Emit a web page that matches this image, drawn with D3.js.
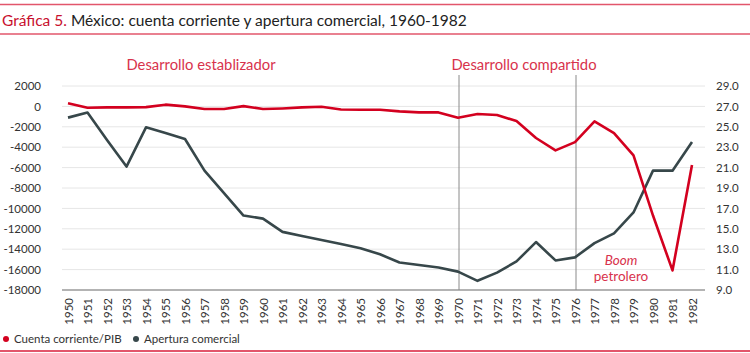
<!DOCTYPE html>
<html><head><meta charset="utf-8">
<script src="https://cdn.jsdelivr.net/npm/d3@7"></script>
<style>body{margin:0;background:#fff}svg{display:block}text{font-family:Lato,"Open Sans",sans-serif}</style>
</head><body>
<script>
const years = d3.range(1950, 1983);
const cuentaCorriente = [300,-130,-100,-100,-70,170,0,-260,-260,30,-260,-200,-100,-30,-300,-330,-330,-490,-590,-590,-1110,-750,-850,-1440,-3100,-4310,-3500,-1470,-2610,-4800,-10700,-16080,-5750];
const apertura = [25.9,26.4,23.7,21.1,24.95,24.4,23.8,20.7,18.5,16.3,16.0,14.7,14.3,13.9,13.5,13.1,12.5,11.7,11.45,11.2,10.8,9.9,10.7,11.8,13.7,11.9,12.2,13.6,14.55,16.6,20.7,20.7,23.5];
const leftTicks = d3.range(-18000, 2001, 2000);
const rightTicks = d3.range(9, 29.01, 2);
const periods = [{label:"Desarrollo establizador", x:201},{label:"Desarrollo compartido", x:524}];
const dividers = [1970, 1976];

const W=750,H=353;
const svg=d3.select("body").append("svg").attr("width",W).attr("height",H);
const red="#d3001f", gray="#37474a", pink="#e2566b";

const x=d3.scalePoint().domain(years).range([68,692]);
const yL=d3.scaleLinear().domain([-18000,2000]).range([290,86]);
const yR=d3.scaleLinear().domain([9,29]).range([290,86]);

// frame lines
svg.append("line").attr("x1",0).attr("x2",W).attr("y1",4.5).attr("y2",4.5).attr("stroke",pink).attr("stroke-width",1.5);
svg.append("line").attr("x1",0).attr("x2",W).attr("y1",34).attr("y2",34).attr("stroke",pink).attr("stroke-width",1.5);
svg.append("line").attr("x1",0).attr("x2",W).attr("y1",351).attr("y2",351).attr("stroke",pink).attr("stroke-width",2);

const title=svg.append("text").attr("x",2).attr("y",26).attr("font-size",15.5);
title.append("tspan").attr("fill","#c8102e").text("Gráfica 5. ");
title.append("tspan").attr("fill","#222").text("México: cuenta corriente y apertura comercial, 1960-1982");

// gridlines
svg.append("g").selectAll("line").data(leftTicks.slice(1)).join("line")
  .attr("x1",62).attr("x2",705).attr("y1",d=>yL(d)).attr("y2",d=>yL(d))
  .attr("stroke","#e6e6e6").attr("stroke-width",1);
svg.append("line").attr("x1",62).attr("x2",705).attr("y1",290).attr("y2",290).attr("stroke","#9a9a9a").attr("stroke-width",1.3);

// dividers
svg.append("g").selectAll("line").data(dividers).join("line")
  .attr("x1",d=>x(d)+1).attr("x2",d=>x(d)+1).attr("y1",75).attr("y2",290)
  .attr("stroke","#8a8a8a").attr("stroke-width",1);

// axes
const gl=svg.append("g").attr("transform","translate(41,0)")
  .call(d3.axisLeft(yL).tickValues(leftTicks).tickSize(0).tickPadding(0).tickFormat(d=>d3.format("d")(d).replace("−","-")));
const gr=svg.append("g").attr("transform","translate(716,0)")
  .call(d3.axisRight(yR).tickValues(rightTicks).tickSize(0).tickPadding(0).tickFormat(d3.format(".1f")));
[gl,gr].forEach(g=>{g.select(".domain").remove();g.selectAll("text").attr("font-size",11.5).attr("fill","#333").attr("font-family","Lato,'Open Sans',sans-serif");});

const gx=svg.append("g").attr("transform","translate(0,298)")
  .call(d3.axisBottom(x).tickSize(0).tickPadding(0).tickFormat(d3.format("d")));
gx.select(".domain").remove();
gx.selectAll("text").attr("font-size",11.5).attr("fill","#333").attr("font-family","Lato,'Open Sans',sans-serif")
  .attr("text-anchor","end").attr("dy","0.35em").attr("x",0).attr("y",0).attr("transform","rotate(-90)");

// lines
svg.append("path").datum(apertura).attr("fill","none").attr("stroke",gray).attr("stroke-width",2.6).attr("stroke-linejoin","round")
  .attr("d",d3.line().x((d,i)=>x(years[i])).y(d=>yR(d)));
svg.append("path").datum(cuentaCorriente).attr("fill","none").attr("stroke",red).attr("stroke-width",2.6).attr("stroke-linejoin","round")
  .attr("d",d3.line().x((d,i)=>x(years[i])).y(d=>yL(d)));

// labels
svg.append("g").selectAll("text").data(periods).join("text")
  .attr("x",d=>d.x).attr("y",70).attr("text-anchor","middle").attr("font-size",14.8).attr("fill","#d8324c").text(d=>d.label);
svg.append("text").attr("x",621).attr("y",265).attr("text-anchor","middle").attr("font-size",13.5).attr("font-style","italic").attr("fill","#d8324c").text("Boom");
svg.append("text").attr("x",621).attr("y",281).attr("text-anchor","middle").attr("font-size",13.5).attr("fill","#d8324c").text("petrolero");

// legend
const leg=[{label:"Cuenta corriente/PIB",c:red,x:6},{label:"Apertura comercial",c:gray,x:136}];
const lg=svg.append("g").selectAll("g").data(leg).join("g").attr("transform",d=>`translate(${d.x},339)`);
lg.append("circle").attr("r",3).attr("fill",d=>d.c);
lg.append("text").attr("x",8).attr("y",4.2).attr("font-size",11.5).attr("fill","#333").text(d=>d.label);
</script>
</body></html>
